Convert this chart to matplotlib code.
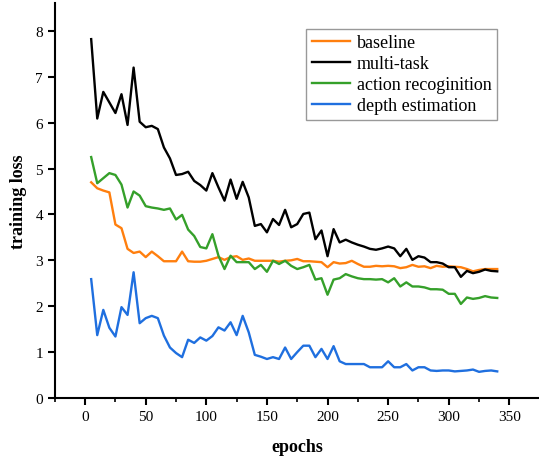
import matplotlib
matplotlib.use("Agg")
import matplotlib.pyplot as plt
import numpy as np
from matplotlib.ticker import MultipleLocator

# epochs sampled every 5
epochs = np.arange(5, 345, 5)

baseline = [4.70, 4.57, 4.52, 4.48, 3.78, 3.70, 3.25, 3.16, 3.19, 3.07,
            3.19, 3.09, 2.98, 2.98, 2.98, 3.19, 2.98, 2.97, 2.97, 2.99,
            3.03, 3.07, 3.01, 3.07, 3.09, 3.01, 3.04, 2.99, 2.99, 2.99,
            2.99, 2.97, 2.99, 3.00, 3.03, 2.98, 2.98, 2.97, 2.96, 2.85,
            2.96, 2.93, 2.94, 2.99, 2.92, 2.86, 2.86, 2.88, 2.87, 2.88,
            2.87, 2.83, 2.85, 2.90, 2.86, 2.87, 2.83, 2.88, 2.86, 2.87,
            2.86, 2.85, 2.81, 2.76, 2.79, 2.81, 2.81, 2.81]

multi_task = [7.82, 6.09, 6.67, 6.44, 6.21, 6.62, 5.95, 7.20, 6.02, 5.90,
              5.93, 5.86, 5.46, 5.22, 4.86, 4.88, 4.93, 4.73, 4.64, 4.52,
              4.90, 4.59, 4.30, 4.76, 4.34, 4.71, 4.37, 3.75, 3.79, 3.61,
              3.90, 3.77, 4.10, 3.72, 3.79, 4.01, 4.04, 3.46, 3.65, 3.09,
              3.68, 3.39, 3.45, 3.39, 3.34, 3.30, 3.25, 3.23, 3.26, 3.30,
              3.26, 3.09, 3.25, 3.01, 3.09, 3.06, 2.96, 2.96, 2.93, 2.85,
              2.85, 2.64, 2.77, 2.72, 2.75, 2.80, 2.77, 2.76]

action_rec = [5.25, 4.68, 4.79, 4.90, 4.86, 4.65, 4.15, 4.50, 4.41, 4.18,
              4.15, 4.13, 4.10, 4.13, 3.89, 3.99, 3.67, 3.53, 3.29, 3.26,
              3.57, 3.10, 2.81, 3.10, 2.96, 2.96, 2.96, 2.81, 2.90, 2.75,
              2.99, 2.92, 2.99, 2.88, 2.81, 2.85, 2.90, 2.58, 2.61, 2.25,
              2.58, 2.61, 2.70, 2.65, 2.61, 2.59, 2.59, 2.58, 2.59, 2.52,
              2.61, 2.43, 2.52, 2.43, 2.43, 2.41, 2.37, 2.37, 2.36, 2.27,
              2.27, 2.05, 2.19, 2.16, 2.18, 2.22, 2.19, 2.18]

depth_est = [2.59, 1.37, 1.92, 1.53, 1.34, 1.98, 1.81, 2.74, 1.63, 1.74,
             1.79, 1.74, 1.36, 1.10, 0.98, 0.89, 1.27, 1.20, 1.32, 1.25,
             1.35, 1.54, 1.47, 1.65, 1.37, 1.79, 1.43, 0.94, 0.90, 0.85,
             0.89, 0.85, 1.10, 0.85, 1.00, 1.14, 1.14, 0.89, 1.07, 0.85,
             1.13, 0.80, 0.74, 0.74, 0.74, 0.74, 0.67, 0.67, 0.67, 0.80,
             0.67, 0.67, 0.74, 0.60, 0.67, 0.67, 0.60, 0.59, 0.60, 0.60,
             0.58, 0.59, 0.60, 0.62, 0.57, 0.59, 0.60, 0.58]

series = [
    ("baseline", baseline, "#ff7f0e"),
    ("multi-task", multi_task, "#000000"),
    ("action recoginition", action_rec, "#35a02a"),
    ("depth estimation", depth_est, "#1f6fdf"),
]

plt.rcParams["font.family"] = ["Liberation Serif", "DejaVu Serif"]

fig = plt.figure(figsize=(5.39, 4.60), dpi=100)
ax = fig.add_axes([0.1017, 0.1326, 0.8995, 0.858])

for name, vals, col in series:
    ax.plot(epochs, vals, color=col, lw=1.7, label=name)

ax.set_xlim(-25, 375)
ax.set_ylim(0, 8.6)
ax.xaxis.set_major_locator(MultipleLocator(50))
ax.xaxis.set_minor_locator(MultipleLocator(25))
ax.yaxis.set_major_locator(MultipleLocator(1))

for side in ("top", "right"):
    ax.spines[side].set_visible(False)
for side in ("left", "bottom"):
    ax.spines[side].set_linewidth(1.5)

ax.tick_params(axis="both", which="major", direction="out", length=5,
               width=1.5, labelsize=11)
ax.tick_params(axis="x", which="minor", direction="out", length=3, width=1.2)
ax.set_xticks([0, 50, 100, 150, 200, 250, 300, 350])

ax.set_xlabel("epochs", fontsize=13, fontweight="bold", labelpad=11)
ax.set_ylabel("training loss", fontsize=13, fontweight="bold", labelpad=6)

leg = ax.legend(loc="upper right", bbox_to_anchor=(0.912, 0.935),
                borderaxespad=0, fontsize=13, frameon=True, fancybox=False,
                handlelength=2.1, handletextpad=0.4, labelspacing=0.22,
                borderpad=0.3)
leg.get_frame().set_edgecolor("#808080")
leg.get_frame().set_linewidth(1.0)

fig.savefig("out.png", dpi=100)
